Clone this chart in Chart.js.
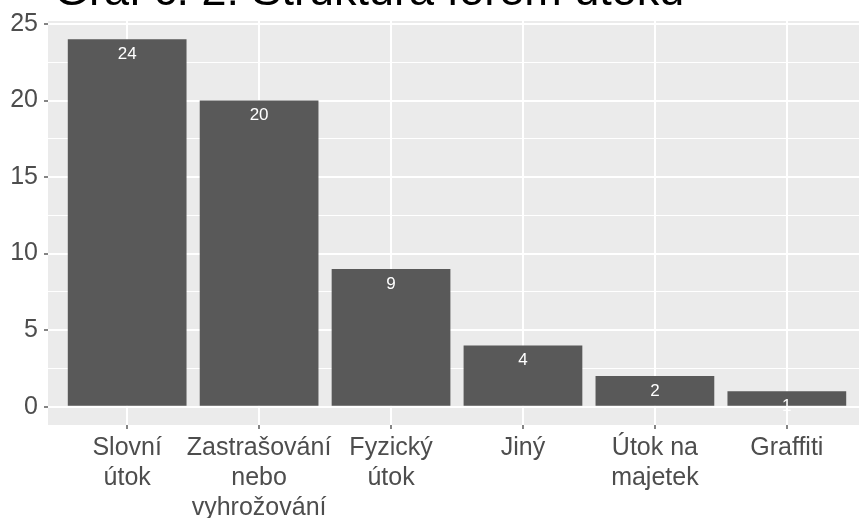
<!DOCTYPE html>
<html>
<head>
<meta charset="utf-8">
<script src="https://cdn.jsdelivr.net/npm/chart.js@4/dist/chart.umd.min.js"></script>
<style>
  html, body { margin: 0; padding: 0; background: #fff; overflow: hidden; }
  #wrap { position: absolute; left: 0; top: 0; width: 872px; height: 518px; }
</style>
</head>
<body>
<div id="wrap"><canvas id="chart"></canvas></div>
<script>
const chartTitle = "Graf č. 2: Struktura forem útoků";
const categories = [
  ["Slovní", "útok"],
  ["Zastrašování", "nebo", "vyhrožování"],
  ["Fyzický", "útok"],
  ["Jiný"],
  ["Útok na", "majetek"],
  ["Graffiti"]
];
const counts = [24, 20, 9, 4, 2, 1];
const yTicks = [0, 5, 10, 15, 20, 25];

const textGrey = "#4d4d4d";
const font = "'Liberation Sans', Arial, sans-serif";

// grey panel behind the plot (ggplot style)
const panelBg = {
  id: "panelBg",
  beforeDraw(chart) {
    const { ctx, chartArea: a } = chart;
    ctx.save();
    ctx.fillStyle = "#ebebeb";
    ctx.fillRect(a.left, a.top, a.right - a.left, a.bottom - a.top);
    ctx.restore();
  }
};

// cut-off title at the very top
const topTitle = {
  id: "topTitle",
  afterDraw(chart) {
    const { ctx, chartArea } = chart;
    ctx.save();
    ctx.fillStyle = "#000";
    ctx.font = "45px " + font;
    ctx.textBaseline = "alphabetic";
    ctx.fillText(chartTitle, chartArea.left + 6, 5);
    ctx.restore();
  }
};

// value labels just inside the top of each bar
const valueLabels = {
  id: "valueLabels",
  afterDatasetsDraw(chart) {
    const { ctx } = chart;
    const meta = chart.getDatasetMeta(0);
    ctx.save();
    ctx.fillStyle = "#ffffff";
    ctx.font = "17px " + font;
    ctx.textAlign = "center";
    ctx.textBaseline = "middle";
    meta.data.forEach((bar, i) => {
      ctx.fillText(String(counts[i]), bar.x, bar.y + 15);
    });
    ctx.restore();
  }
};

const points = counts.map((v, i) => ({ x: i + 1, y: v }));

new Chart(document.getElementById("chart"), {
  type: "bar",
  data: {
    datasets: [{
      data: points,
      backgroundColor: "#595959",
      borderWidth: 0,
      barPercentage: 0.9,
      categoryPercentage: 1
    }]
  },
  options: {
    responsive: true,
    maintainAspectRatio: false,
    animation: false,
    layout: { padding: { top: 20, right: 6, left: 0, bottom: 0 } },
    plugins: {
      legend: { display: false },
      tooltip: { enabled: false }
    },
    scales: {
      x: {
        type: "linear",
        offset: false,
        min: 0.4,
        max: categories.length + 0.6,
        afterBuildTicks(scale) {
          scale.ticks = categories.map((c, i) => ({ value: i + 1 }));
        },
        afterFit(scale) { scale.height = 93; },
        border: { display: false },
        grid: {
          offset: false,
          color: "#ffffff",
          lineWidth: 2,
          tickColor: "#333333",
          tickLength: 4,
          tickWidth: 1.2
        },
        ticks: {
          autoSkip: false,
          maxRotation: 0,
          padding: 4,
          color: textGrey,
          font: { family: font, size: 25, lineHeight: 1.2 },
          callback: (v) => categories[v - 1]
        }
      },
      y: {
        min: -1.2,
        max: 25.2,
        afterBuildTicks(scale) {
          const t = [];
          yTicks.forEach((v, i) => {
            t.push({ value: v });
            if (i < yTicks.length - 1) t.push({ value: (v + yTicks[i + 1]) / 2 });
          });
          scale.ticks = t;
        },
        afterFit(scale) { scale.width = 48; },
        border: { display: false },
        grid: {
          color: "#ffffff",
          lineWidth: (c) => (yTicks.includes(c.tick.value) ? 2 : 1),
          tickColor: (c) => (yTicks.includes(c.tick.value) ? "#333333" : "rgba(0,0,0,0)"),
          tickLength: 4,
          tickWidth: 1.2
        },
        ticks: {
          padding: 6,
          color: textGrey,
          font: { family: font, size: 25 },
          callback: (v) => (yTicks.includes(v) ? String(v) : "")
        }
      }
    }
  },
  plugins: [panelBg, valueLabels, topTitle]
});
</script>
</body>
</html>
